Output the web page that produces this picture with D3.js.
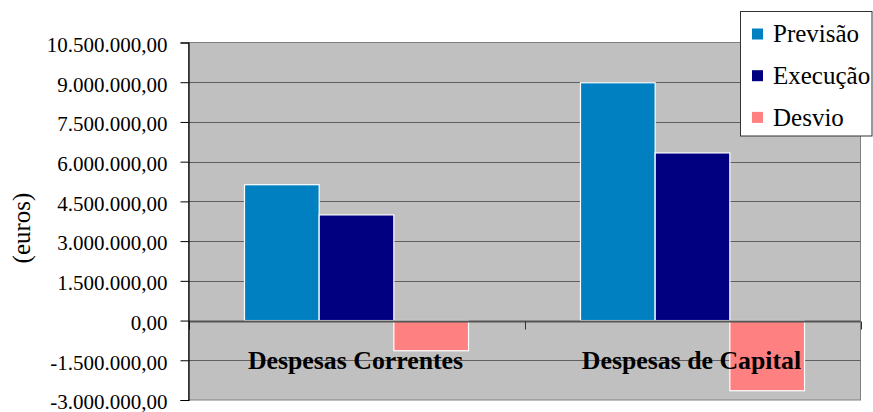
<!DOCTYPE html>
<html>
<head>
<meta charset="utf-8">
<script src="https://cdn.jsdelivr.net/npm/d3@7"></script>
<style>
  html, body { margin: 0; padding: 0; background: #ffffff; }
  svg { display: block; }
</style>
</head>
<body>
<svg id="chart" width="873" height="412"></svg>
<script>
// Budget categories and series
const categories = ["Despesas Correntes", "Despesas de Capital"];
const seriesNames = ["Previsão", "Execução", "Desvio"];
const previsao = [5130000, 8980000];
const execucao = [3990000, 6330000];
const desvio = [-1140000, -2650000];
const yTicks = [-3000000, -1500000, 0, 1500000, 3000000, 4500000, 6000000, 7500000, 9000000, 10500000];

const seriesValues = [previsao, execucao, desvio];
const seriesColors = ["#0080C0", "#000080", "#FF8080"];
const serif = '"Liberation Serif"';

const svg = d3.select("#chart");
const plot = { left: 188.5, right: 860.5, top: 42.5, bottom: 400 };

const pt = d3.formatLocale({ decimal: ",", thousands: ".", grouping: [3], currency: ["", " €"], minus: "-" });
const fmt = pt.format(",.2f");

const x0 = d3.scaleBand().domain(categories).range([plot.left, plot.right]).padding(0);
const x1 = d3.scaleBand().domain(seriesNames).range([0, x0.bandwidth()]).paddingInner(0).paddingOuter(0.75);
const y = d3.scaleLinear().domain([d3.min(yTicks), d3.max(yTicks)]).range([plot.bottom, plot.top]);

// Plot background
svg.append("rect")
  .attr("x", plot.left).attr("y", plot.top)
  .attr("width", plot.right - plot.left).attr("height", plot.bottom - plot.top)
  .attr("fill", "#C0C0C0")
  .attr("stroke", "#808080").attr("stroke-width", 1);

// Horizontal gridlines
svg.append("g").selectAll("line")
  .data(yTicks.filter(d => d !== 0 && d !== d3.min(yTicks) && d !== d3.max(yTicks)))
  .join("line")
  .attr("x1", plot.left).attr("x2", plot.right)
  .attr("y1", d => Math.round(y(d)) + 0.5).attr("y2", d => Math.round(y(d)) + 0.5)
  .attr("stroke", "#5f5f5f").attr("stroke-width", 1);

// Bars
const groups = svg.append("g").selectAll("g")
  .data(categories)
  .join("g")
  .attr("transform", d => `translate(${x0(d)},0)`);

groups.selectAll("rect")
  .data((c, ci) => seriesNames.map((s, si) => ({ s, v: seriesValues[si][ci], color: seriesColors[si] })))
  .join("rect")
  .attr("x", d => x1(d.s))
  .attr("width", x1.bandwidth())
  .attr("y", d => y(Math.max(0, d.v)))
  .attr("height", d => Math.abs(y(d.v) - y(0)))
  .attr("fill", d => d.color)
  .attr("stroke", "#ffffff").attr("stroke-width", 1.2);

// Zero line with category tick marks
const y0 = Math.round(y(0)) + 0.5;
svg.append("line")
  .attr("x1", plot.left).attr("x2", plot.right)
  .attr("y1", y0).attr("y2", y0)
  .attr("stroke", "#555555").attr("stroke-width", 2);
svg.append("g").selectAll("line")
  .data(categories.map(c => x0(c) + x0.bandwidth()).concat([plot.left]))
  .join("line")
  .attr("x1", d => Math.round(d) + 0.5).attr("x2", d => Math.round(d) + 0.5)
  .attr("y1", y0).attr("y2", y0 + 8)
  .attr("stroke", "#333333").attr("stroke-width", 1);

// Category labels, on top of the bars
svg.append("g").selectAll("text")
  .data(categories)
  .join("text")
  .attr("x", d => x0(d) + x0.bandwidth() / 2 - 1)
  .attr("y", 368.5)
  .attr("text-anchor", "middle")
  .style("font-family", serif)
  .style("font-weight", "bold")
  .style("font-size", "25.8px")
  .attr("fill", "#000")
  .text(d => d);

// Y axis
const yAxis = d3.axisLeft(y).tickValues(yTicks).tickFormat(fmt).tickSize(8).tickPadding(13);
const ag = svg.append("g").attr("transform", `translate(${plot.left},0)`).call(yAxis);
ag.attr("font-family", null).attr("font-size", null);
ag.select(".domain").attr("stroke", "#000").attr("stroke-width", 1.2);
ag.selectAll(".tick line").attr("stroke", "#000");
ag.selectAll(".tick text")
  .attr("dy", "0.42em")
  .style("font-family", serif)
  .style("font-size", "21px")
  .attr("fill", "#000");

// Y axis title
svg.append("text")
  .attr("transform", "translate(21,228) rotate(-90)")
  .attr("text-anchor", "middle")
  .attr("dominant-baseline", "central")
  .style("font-family", serif)
  .style("font-size", "25px")
  .attr("fill", "#000")
  .text("(euros)");

// Legend
const legend = svg.append("g");
legend.append("rect")
  .attr("x", 740.5).attr("y", 11.5)
  .attr("width", 131.5).attr("height", 124.5)
  .attr("fill", "#ffffff")
  .attr("stroke", "#333333").attr("stroke-width", 1);
const items = legend.selectAll("g.item")
  .data(seriesNames)
  .join("g")
  .attr("class", "item")
  .attr("transform", (d, i) => `translate(0,${i * 41.7})`);
items.append("rect")
  .attr("x", 752).attr("y", 28.5)
  .attr("width", 11).attr("height", 11)
  .attr("fill", (d, i) => seriesColors[i]);
items.append("text")
  .attr("x", 773).attr("y", 42.3)
  .style("font-family", serif)
  .style("font-size", "25px")
  .attr("fill", "#000")
  .text(d => d);
</script>
</body>
</html>
